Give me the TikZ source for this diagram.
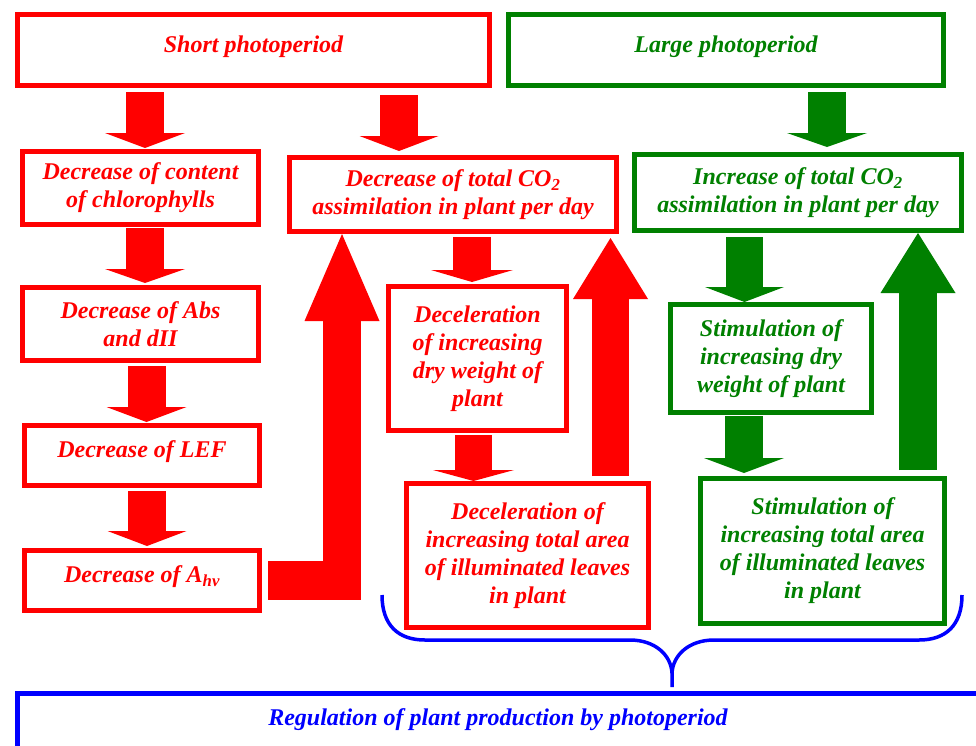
\documentclass[tikz,border=0pt]{standalone}
\usepackage{fontspec}
\setmainfont{Liberation Serif}
\usetikzlibrary{arrows.meta,calc}
\definecolor{cred}{RGB}{255,0,0}
\definecolor{cgreen}{RGB}{0,128,0}
\definecolor{cblue}{RGB}{0,0,255}
\begin{document}
\begin{tikzpicture}[x=1pt,y=-1pt,
  txt/.style={font=\fontsize{24}{28}\selectfont\bfseries\itshape},
  box/.style={txt, draw, line width=5pt, inner sep=0pt, align=center},
  rbox/.style={box, draw=cred, text=cred},
  gbox/.style={box, draw=cgreen, text=cgreen},
  one/.style={text height=17pt, text depth=13pt},
  blk/.style n args={4}{#1, line width=#2pt, line join=miter,
    -{Triangle[width=#3pt,length=#4pt,line width=0pt]}}
]
\useasboundingbox (0,0) rectangle (976,745);

% boxes
\node[rbox, minimum width=472pt, minimum height=71pt, one] (short) at (253.5,50) {Short photoperiod};
\node[gbox, minimum width=435pt, minimum height=71pt, one] (large) at (726,50) {Large photoperiod};
\node[rbox, minimum width=236pt, minimum height=73pt] (content) at (140.5,188) {Decrease of content\\of chlorophylls};
\node[rbox, minimum width=236pt, minimum height=73pt] (abs) at (140.5,324) {Decrease of Abs\\and dII};
\node[rbox, minimum width=235pt, minimum height=60pt, one] (lef) at (142,455.5) {Decrease of LEF};
\node[rbox, minimum width=235pt, minimum height=60pt, one] (ahv) at (142,580.5) {Decrease of A\textsubscript{hν}};
\node[rbox, minimum width=327pt, minimum height=74pt] (rco2) at (453,194.5) {Decrease of total CO\textsubscript{2}\\assimilation in plant per day};
\node[rbox, minimum width=178pt, minimum height=144pt] (rdry) at (477.5,358.5) {Deceleration\\of increasing\\dry weight of\\plant};
\node[rbox, minimum width=242pt, minimum height=144pt] (rarea) at (527.5,555.5) {Deceleration of\\increasing total area\\of illuminated leaves\\in plant};
\node[gbox, minimum width=327pt, minimum height=76pt] (gco2) at (798,192.5) {Increase of total CO\textsubscript{2}\\assimilation in plant per day};
\node[gbox, minimum width=201pt, minimum height=108pt] (gdry) at (771,358.5) {Stimulation of\\increasing dry\\weight of plant};
\node[gbox, minimum width=244pt, minimum height=145pt] (garea) at (822.5,551) {Stimulation of\\increasing total area\\of illuminated leaves\\in plant};

\node[draw=cblue, line width=5pt, minimum width=960.5pt, minimum height=100pt, inner sep=0pt] (reg) at (497.75,743) {};
\node[txt, text=cblue, anchor=base] (regtext) at (498,725) {Regulation of plant production by photoperiod};

% down block arrows
\draw[blk={cred}{38}{80}{15}] ($(145,0 |- short.south)+(0,4)$) -- ($(145,0 |- content.north)+(0,-1)$);
\draw[blk={cred}{38}{79}{15}] ($(399,0 |- short.south)+(0,7)$) -- ($(399,0 |- rco2.north)+(0,-4)$);
\draw[blk={cred}{38}{80}{14}] ($(145,0 |- content.south)+(0,1)$) -- ($(145,0 |- abs.north)+(0,-2)$);
\draw[blk={cred}{38}{80}{15}] ($(146.5,0 |- abs.south)+(0,3)$) -- ($(146.5,0 |- lef.north)+(0,-1)$);
\draw[blk={cred}{38}{79}{15}] ($(147,0 |- lef.south)+(0,3)$) -- ($(147,0 |- ahv.north)+(0,-2)$);
\draw[blk={cred}{38}{82}{12}] ($(472,0 |- rco2.south)+(0,3)$) -- ($(472,0 |- rdry.north)+(0,-2)$);
\draw[blk={cred}{37}{81}{11}] ($(473.5,0 |- rdry.south)+(0,2)$) -- (473.5,0 |- rarea.north);
\draw[blk={cgreen}{38}{80}{14}] ($(827,0 |- large.south)+(0,4)$) -- ($(827,0 |- gco2.north)+(0,-5)$);
\draw[blk={cgreen}{37}{79}{15}] ($(744.5,0 |- gco2.south)+(0,4)$) -- (744.5,0 |- gdry.north);
\draw[blk={cgreen}{38}{80}{15}] ($(744,0 |- gdry.south)+(0,1)$) -- ($(744,0 |- garea.north)+(0,-3)$);

% up block arrows
\draw[blk={cred}{38.5}{75}{87}] ([xshift=6pt]ahv.east) -| (342,0 |- rco2.south);
\draw[blk={cred}{37}{75}{61}] ($(610.5,0 |- rarea.north)+(0,-5)$) -- ($(610.5,0 |- rco2.south)+(0,4)$);
\draw[blk={cgreen}{38}{75}{60}] ($(918,0 |- garea.north)+(0,-6)$) -- (918,0 |- gco2.south);

% brace
\coordinate (bl) at (382,595);
\coordinate (bm) at (672,673);
\coordinate (br) at (962,595);
\draw[cblue, line width=3.5pt] (bl) .. controls (382,625) and (398,640) .. (425,640) -- (630,640)
  .. controls (655,640) and (671,655) .. (bm) -- (672,687);
\draw[cblue, line width=3.5pt] (bm) .. controls (673,655) and (689,640) .. (714,640) -- (919,640)
  .. controls (946,640) and (962,625) .. (br);
\end{tikzpicture}
\end{document}
